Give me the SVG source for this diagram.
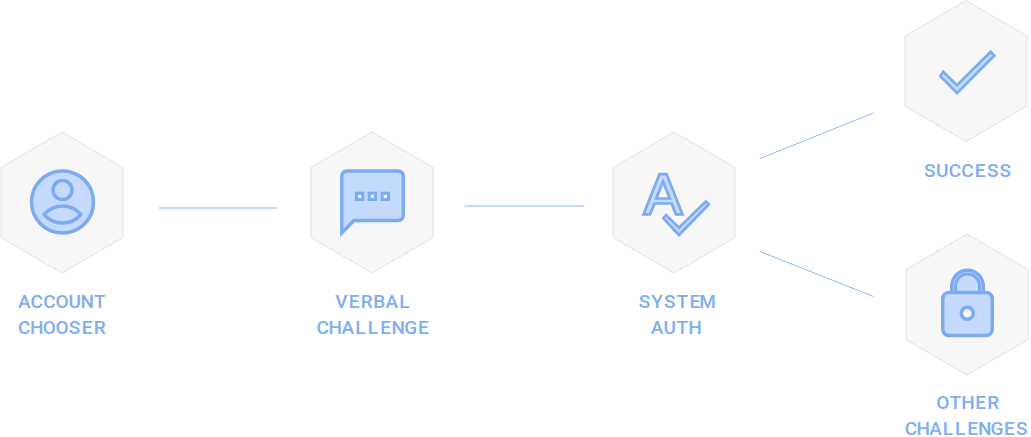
<svg xmlns="http://www.w3.org/2000/svg" width="1031" height="437" viewBox="0 0 1031 437">
<style>
.hex{fill:#f7f7f8;stroke:#e2e2e2;stroke-width:1}
.ic{fill:#c4daff;stroke:#7cabf1;stroke-width:3.500;stroke-linejoin:miter;stroke-miterlimit:8}
.thin{stroke-width:2.700}
.dot{fill:#eef4ff;stroke:#7cabf1;stroke-width:3}
.lb{font-family:Roboto,sans-serif;font-size:19px;fill:#80aef0;text-anchor:middle;font-weight:500}
.cn{stroke:#8fb6ee;stroke-width:1;fill:none}
</style>
<defs><path id="h" class="hex" d="M0-70.500L61-35V35L0 70.500L-61 35V-35Z"/></defs>
<g id="connectors">
<path class="cn" d="M159 208H277"/>
<path class="cn" d="M465 206H584"/>
<path class="cn" d="M760 158.500L873.500 113"/>
<path class="cn" d="M760 251.500L873.500 296.500"/>
</g>
<g id="account-chooser">
<use href="#h" x="62" y="202.500"/>
<circle class="ic" cx="62.500" cy="202" r="31"/>
<circle class="ic" cx="62.500" cy="190" r="9.500"/>
<path class="ic" style="stroke-linejoin:round" d="M44 214.500C50 208 56 206 62.500 206C69 206 75 208 81 214.500C75 221 69 223 62.500 223C56 223 50 221 44 214.500Z"/>
<text class="lb" x="24.200 36.800 49.400 62 74.600 87.200 99.800" y="308">ACCOUNT</text>
<text class="lb" x="24.200 36.800 49.400 62 74.600 87.200 99.800" y="334">CHOOSER</text>
</g>
<g id="verbal-challenge">
<use href="#h" x="372" y="202.500"/>
<path class="ic" d="M347.500 171H397.500Q403.300 171 403.300 177V214.500Q403.300 220.500 397.500 220.500H354L341.800 232.700V177Q341.800 171 347.500 171Z"/>
<rect class="dot" x="356.500" y="193.200" width="6.300" height="6.300"/>
<rect class="dot" x="369.200" y="193.200" width="6.300" height="6.300"/>
<rect class="dot" x="382.200" y="193.200" width="6.300" height="6.300"/>
<text class="lb" x="341.500 354.100 366.700 379.300 391.900 404.500" y="307.500">VERBAL</text>
<text class="lb" x="322.600 335.200 347.800 360.400 373 385.600 398.200 410.800 423.400" y="333.500">CHALLENGE</text>
</g>
<g id="system-auth">
<use href="#h" x="674" y="202.500"/>
<path class="ic thin" fill-rule="evenodd" d="M659.500 174.200H666.500L682.500 214.300H676L671.500 203.500H654.500L650 214.300H643.500ZM663 181.500L656.200 198.500H669.800Z"/>
<path class="ic thin" d="M663.500 218.300L666 215L679 227.700L705.700 201.500L708.900 204.300L679 235Z"/>
<text class="lb" x="644.500 657.100 669.700 682.300 694.900 707.500" y="307.500">SYSTEM</text>
<text class="lb" x="657.100 669.700 682.300 694.900" y="333.500">AUTH</text>
</g>
<g id="success">
<use href="#h" x="966" y="71"/>
<path class="ic thin" d="M940.200 76L943.300 71.800L957 85.200L990.700 51.800L994.200 55.700L957 93.200Z"/>
<text class="lb" x="929.700 942.300 954.900 967.500 980.100 992.700 1005.300" y="176.500">SUCCESS</text>
</g>
<g id="other-challenges">
<use href="#h" x="967" y="304.500"/>
<path class="ic" d="M951.750 293V286A15.750 15.750 0 0 1 983.250 286V293Z"/>
<path class="ic" d="M955.500 293V286A12 12 0 0 1 979.500 286V293" fill="none" style="stroke-width:3"/>
<rect class="ic" x="942.750" y="292.500" width="49.500" height="43" rx="6"/>
<circle cx="967.300" cy="313.300" r="6" fill="#f2f6fd" stroke="#7cabf1" stroke-width="3.500"/>
<text class="lb" x="942.800 955.400 968 980.600 993.200" y="409">OTHER</text>
<text class="lb" x="911 923.300 935.600 947.900 960.200 972.500 984.800 997.100 1009.400 1021.700" y="435">CHALLENGES</text>
</g>
</svg>
